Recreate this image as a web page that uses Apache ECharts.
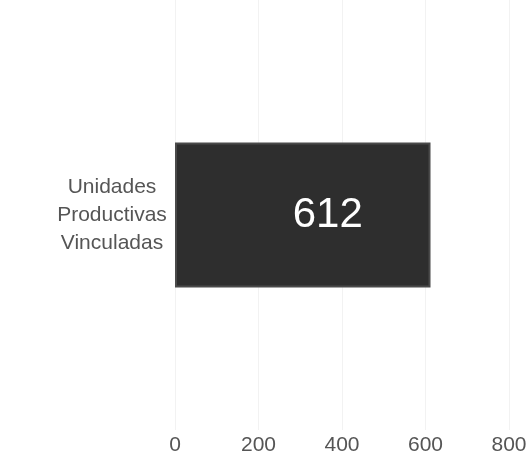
<!DOCTYPE html>
<html><head><meta charset="utf-8">
<script src="https://cdn.jsdelivr.net/npm/echarts@6/dist/echarts.min.js"></script>
<style>html,body{margin:0;padding:0;background:#fff}#c{width:530px;height:468px}</style>
</head><body><div id="c"></div>
<script>
const categories = ['Unidades\nProductivas\nVinculadas'];
const values = [612];
const xTicks = [0, 200, 400, 600, 800];

const chart = echarts.init(document.getElementById('c'));
chart.setOption({
  animation: false,
  grid: { left: 175, right: 21, top: 0, bottom: 38 },
  xAxis: {
    type: 'value', min: xTicks[0], max: xTicks[xTicks.length - 1], interval: 200,
    axisLine: { show: false }, axisTick: { show: false },
    splitLine: { lineStyle: { color: '#f2f2f2', width: 1 } },
    axisLabel: { color: '#555', fontSize: 21, fontFamily: 'Liberation Sans, Arial', margin: 5 }
  },
  yAxis: {
    type: 'category', data: categories,
    axisLine: { show: false }, axisTick: { show: false },
    axisLabel: { color: '#555', fontSize: 21, fontFamily: 'Liberation Sans, Arial', align: 'center', margin: 63, lineHeight: 28 }
  },
  series: [{
    type: 'bar', data: values, barWidth: 145,
    itemStyle: { color: '#2e2e2e', borderColor: '#4a4a4a', borderWidth: 2 },
    label: { show: true, position: 'inside', offset: [25, 0], color: '#fff', fontSize: 42, fontFamily: 'Liberation Sans, Arial' }
  }]
});
</script></body></html>
